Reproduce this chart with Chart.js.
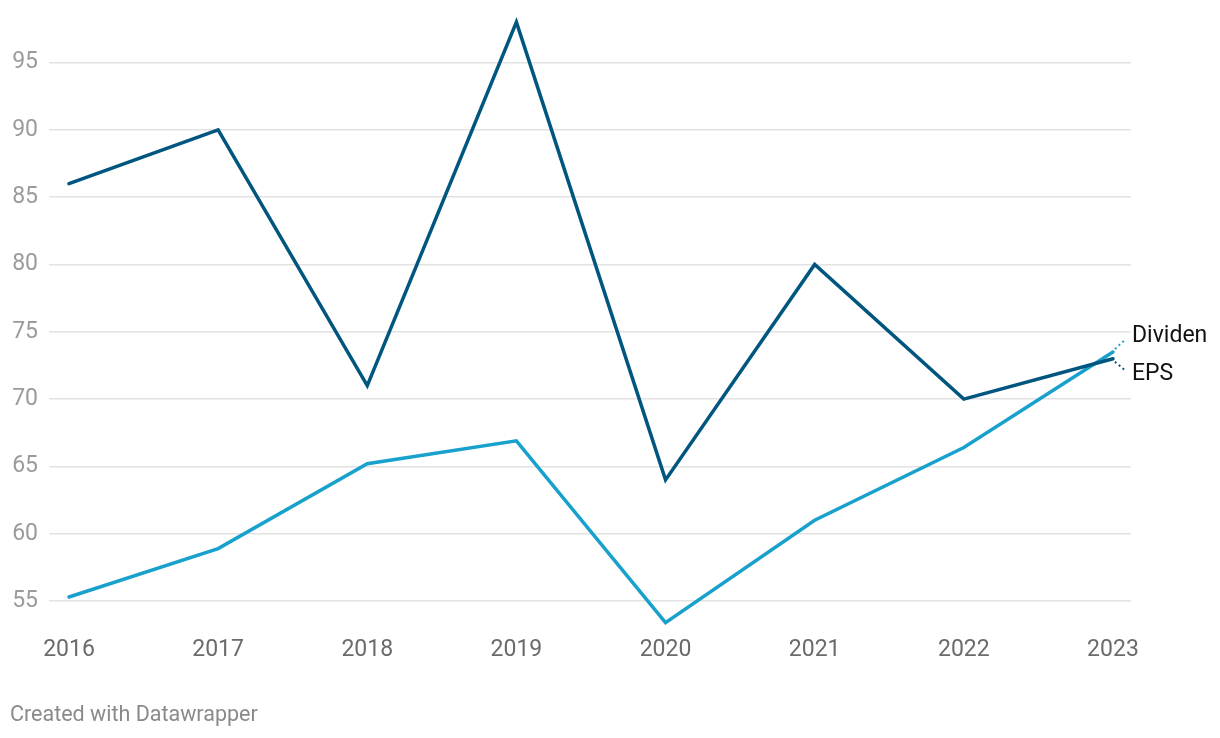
<!DOCTYPE html>
<html>
<head>
<meta charset="utf-8">
<script src="https://cdn.jsdelivr.net/npm/chart.js@4"></script>
<style>
  html, body { margin: 0; padding: 0; background: #fff; }
  #wrap { position: relative; width: 1220px; height: 738px; }
</style>
</head>
<body>
<div id="wrap"><canvas id="chart" width="1220" height="738"></canvas></div>
<script>
// Data
const years = [2016, 2017, 2018, 2019, 2020, 2021, 2022, 2023];
const eps = [86, 90, 71, 98, 64, 80, 70, 73];
const dividen = [55.3, 58.9, 65.2, 66.9, 53.4, 61.0, 66.4, 73.5];
const yTicks = [55, 60, 65, 70, 75, 80, 85, 90, 95];
const seriesNames = ['EPS', 'Dividen'];

const EPS_COLOR = '#00567f';
const DIV_COLOR = '#18a1cd';
const FONT = 'Roboto, "Noto Sans", sans-serif';

// labels at the end of each line, with dotted connectors
const endLabels = {
  id: 'endLabels',
  afterDatasetsDraw(chart) {
    const ctx = chart.ctx;
    const spots = [
      { ds: 1, text: seriesNames[1], ty: 336 },
      { ds: 0, text: seriesNames[0], ty: 374 }
    ];
    ctx.save();
    spots.forEach(s => {
      const meta = chart.getDatasetMeta(s.ds);
      const pt = meta.data[meta.data.length - 1];
      const color = chart.data.datasets[s.ds].borderColor;
      const up = s.ds === 1;
      ctx.strokeStyle = color;
      ctx.lineWidth = 2;
      ctx.setLineDash([2, 3]);
      ctx.beginPath();
      ctx.moveTo(pt.x + 2, pt.y + (up ? -3 : 3));
      ctx.lineTo(pt.x + 13, s.ty + (up ? 3 : -3));
      ctx.stroke();
      ctx.setLineDash([]);
      ctx.fillStyle = '#111';
      ctx.font = '23px ' + FONT;
      ctx.textAlign = 'left';
      ctx.textBaseline = 'middle';
      ctx.fillText(s.text, 1132, s.ty);
    });
    ctx.fillStyle = '#8a8a8a';
    ctx.font = '21.5px ' + FONT;
    ctx.textBaseline = 'middle';
    ctx.fillText('Created with Datawrapper', 10, 716);
    ctx.restore();
  }
};

new Chart(document.getElementById('chart').getContext('2d'), {
  type: 'line',
  data: {
    datasets: [
      {
        label: seriesNames[0],
        data: years.map((y, i) => ({ x: y, y: eps[i] })),
        borderColor: EPS_COLOR,
        borderWidth: 3.5,
        pointRadius: 0,
        tension: 0,
        clip: false,
        borderCapStyle: 'round',
        borderJoinStyle: 'miter'
      },
      {
        label: seriesNames[1],
        data: years.map((y, i) => ({ x: y, y: dividen[i] })),
        borderColor: DIV_COLOR,
        borderWidth: 3.5,
        pointRadius: 0,
        tension: 0,
        clip: false,
        borderCapStyle: 'round',
        borderJoinStyle: 'miter'
      }
    ]
  },
  options: {
    responsive: false,
    animation: false,
    layout: { padding: { left: 0, right: 89, top: 15, bottom: 0 } },
    plugins: { legend: { display: false }, tooltip: { enabled: false } },
    scales: {
      x: {
        type: 'linear',
        min: 2015.866,
        max: 2023.121,
        afterBuildTicks(scale) { scale.ticks = years.map(v => ({ value: v })); },
        afterFit(scale) { scale.height = 110; },
        grid: { display: false },
        border: { display: false },
        ticks: {
          color: '#6b6b6b',
          font: { family: FONT, size: 23 },
          padding: 0,
          maxRotation: 0,
          autoSkip: false,
          callback: v => String(v)
        }
      },
      y: {
        min: 53,
        max: 97.8,
        afterBuildTicks(scale) { scale.ticks = yTicks.map(v => ({ value: v })); },
        afterFit(scale) { scale.width = 49; },
        grid: { color: '#e2e2e2', lineWidth: 1.5, drawTicks: false },
        border: { display: false },
        ticks: {
          color: '#9b9b9b',
          font: { family: FONT, size: 23 },
          padding: 11,
          callback: v => String(v)
        }
      }
    }
  },
  plugins: [endLabels]
});
</script>
</body>
</html>
